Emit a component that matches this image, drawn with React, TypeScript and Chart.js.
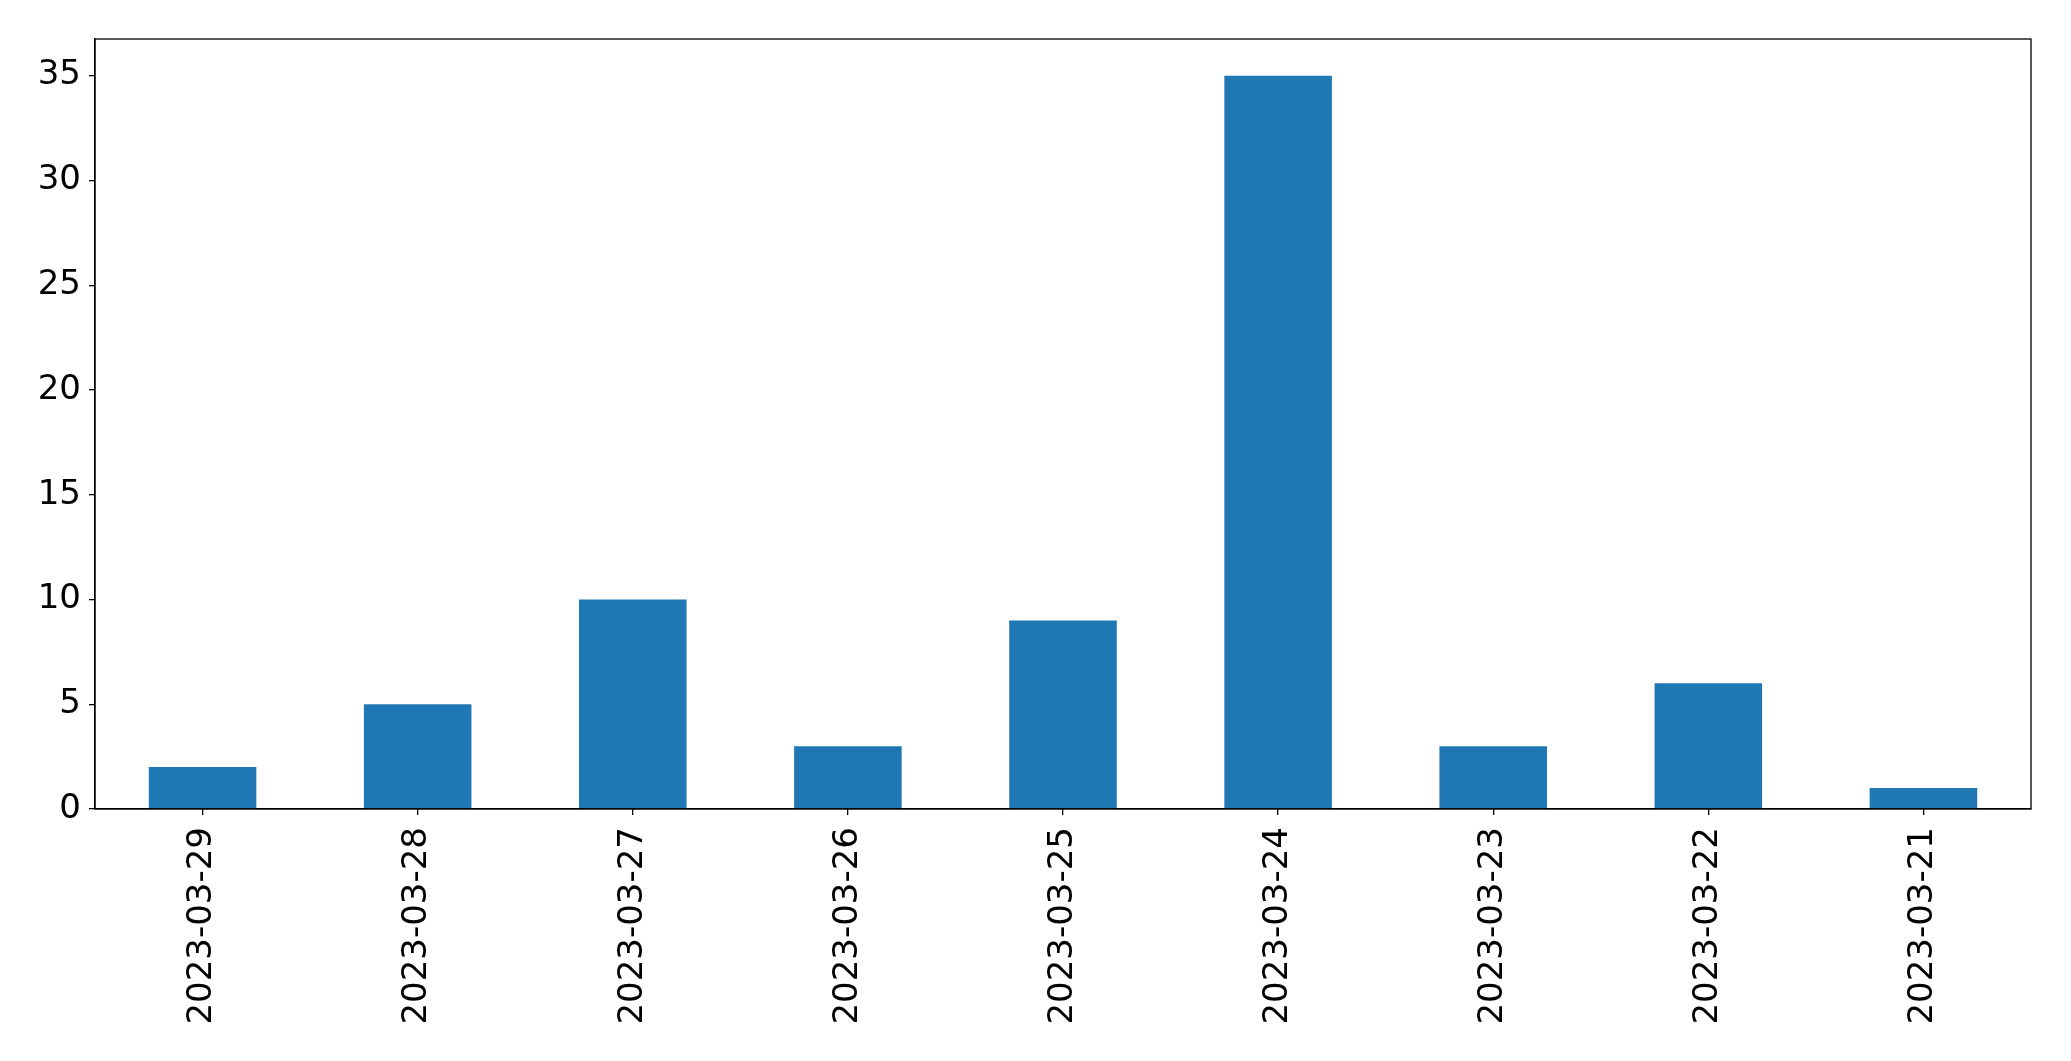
import React, { useEffect, useRef } from "react";
import { Chart, registerables } from "chart.js";

Chart.register(...registerables);

const categories = [
  "2023-03-29",
  "2023-03-28",
  "2023-03-27",
  "2023-03-26",
  "2023-03-25",
  "2023-03-24",
  "2023-03-23",
  "2023-03-22",
  "2023-03-21",
];
const counts = [2, 5, 10, 3, 9, 35, 3, 6, 1];
const yTickValues = [0, 5, 10, 15, 20, 25, 30, 35];
const yMax = 36.75;

const boxPlugin = {
  id: "boxPlugin",
  afterDraw(chart: any) {
    const { ctx, chartArea } = chart;
    ctx.save();
    ctx.strokeStyle = "#000";
    ctx.lineWidth = 1.3;
    ctx.strokeRect(chartArea.left, chartArea.top, chartArea.right - chartArea.left, chartArea.bottom - chartArea.top);
    ctx.restore();
  },
};

export default function App() {
  const ref = useRef<HTMLCanvasElement>(null);
  useEffect(() => {
    const font = { family: "DejaVu Sans", size: 34 };
    const chart = new Chart(ref.current!, {
      type: "bar",
      data: {
        labels: categories,
        datasets: [
          {
            data: counts,
            backgroundColor: "#1f77b4",
            barPercentage: 0.5,
            categoryPercentage: 1,
          },
        ],
      },
      options: {
        animation: false,
        responsive: false,
        maintainAspectRatio: false,
        layout: { padding: { top: 39, right: 40, left: 0, bottom: 0 } },
        plugins: { legend: { display: false }, tooltip: { enabled: false } },
        scales: {
          x: {
            grid: { display: true, offset: false, drawOnChartArea: false, drawTicks: true, tickLength: 6, color: "#000", lineWidth: 1.3 },
            border: { display: true, color: "#000", width: 1.3 },
            ticks: { color: "#000", font, minRotation: 90, maxRotation: 90, padding: 12, autoSkip: false },
            afterFit: (s: any) => {
              s.height = 252;
            },
          },
          y: {
            min: 0,
            max: yMax,
            grid: { display: true, drawOnChartArea: false, drawTicks: true, tickLength: 6, color: "#000", lineWidth: 1.3 },
            border: { display: true, color: "#000", width: 1.3 },
            ticks: { color: "#000", font, padding: 8 },
            afterBuildTicks: (axis: any) => {
              axis.ticks = yTickValues.map((v) => ({ value: v }));
            },
            afterFit: (s: any) => {
              s.width = 95;
            },
          },
        },
      },
      plugins: [boxPlugin],
    });
    return () => chart.destroy();
  }, []);
  return (
    <div style={{ position: "fixed", left: 0, top: 0, width: 2071, height: 1061, background: "#fff" }}>
      <canvas ref={ref} width={2071} height={1061} style={{ width: 2071, height: 1061 }} />
    </div>
  );
}
